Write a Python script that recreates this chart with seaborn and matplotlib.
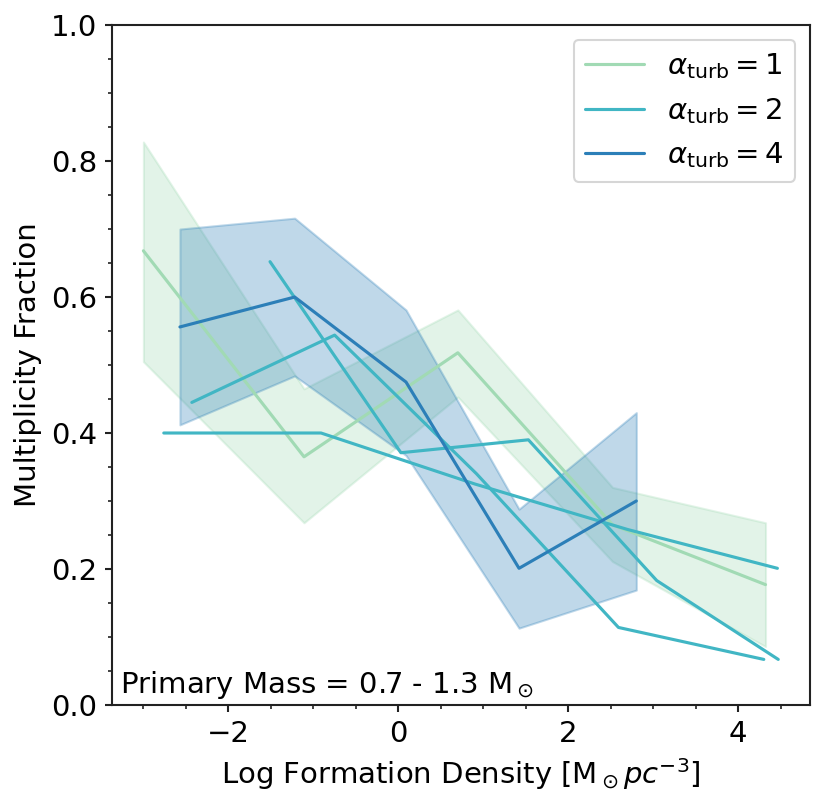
import matplotlib
matplotlib.use("Agg")
import matplotlib.pyplot as plt
import seaborn as sns
from matplotlib.ticker import MultipleLocator

# Estilo: seaborn "ticks" com ajustes para lembrar o padrão do matplotlib
sns.set_theme(style="ticks")
plt.rcParams['font.family'] = ['DejaVu Sans']
plt.rcParams['mathtext.fontset'] = 'dejavusans'
plt.rcParams['text.color'] = 'black'
plt.rcParams['axes.labelcolor'] = 'black'
plt.rcParams['xtick.color'] = 'black'
plt.rcParams['ytick.color'] = 'black'

# Dados (densidade de formação em log, fração de multiplicidade)
dens_a1 = [-3.00, -1.11, 0.70, 2.52, 4.32]
frac_a1 = [0.668, 0.365, 0.518, 0.265, 0.177]
lo_a1 = [0.505, 0.268, 0.453, 0.211, 0.086]
hi_a1 = [0.828, 0.465, 0.581, 0.320, 0.268]

dens_a2_r1 = [-2.76, -0.91, 0.90, 2.70, 4.46]
frac_a2_r1 = [0.400, 0.400, 0.325, 0.258, 0.201]
dens_a2_r2 = [-2.43, -0.75, 0.92, 2.59, 4.30]
frac_a2_r2 = [0.445, 0.544, 0.340, 0.114, 0.067]
dens_a2_r3 = [-1.51, 0.03, 1.53, 3.04, 4.47]
frac_a2_r3 = [0.652, 0.371, 0.390, 0.183, 0.067]

dens_a4 = [-2.57, -1.22, 0.09, 1.42, 2.80]
frac_a4 = [0.556, 0.600, 0.475, 0.201, 0.300]
lo_a4 = [0.412, 0.484, 0.367, 0.113, 0.169]
hi_a4 = [0.700, 0.716, 0.581, 0.288, 0.430]

cores = {1: '#a1dab4', 2: '#41b6c4', 4: '#2c7fb8'}

fig, ax = plt.subplots(figsize=(824 / 150, 809 / 150), dpi=150)
fig.subplots_adjust(left=0.1355, right=0.983, top=0.969, bottom=0.1286)

# Faixas de incerteza
ax.fill_between(dens_a1, lo_a1, hi_a1, color=cores[1], alpha=0.3)
ax.fill_between(dens_a4, lo_a4, hi_a4, color=cores[4], alpha=0.3)

# Curvas
sns.lineplot(x=dens_a1, y=frac_a1, color=cores[1], lw=1.5, ax=ax,
             label=r'$\alpha_{\rm turb} = 1$')
sns.lineplot(x=dens_a2_r1, y=frac_a2_r1, color=cores[2], lw=1.5, ax=ax,
             label=r'$\alpha_{\rm turb} = 2$')
sns.lineplot(x=dens_a2_r2, y=frac_a2_r2, color=cores[2], lw=1.5, ax=ax,
             label='_nolegend_')
sns.lineplot(x=dens_a2_r3, y=frac_a2_r3, color=cores[2], lw=1.5, ax=ax,
             label='_nolegend_')
sns.lineplot(x=dens_a4, y=frac_a4, color=cores[4], lw=1.5, ax=ax,
             label=r'$\alpha_{\rm turb} = 4$')

ax.set_ylim(0, 1)
ax.xaxis.set_major_locator(MultipleLocator(2))
ax.xaxis.set_minor_locator(MultipleLocator(0.5))
ax.yaxis.set_major_locator(MultipleLocator(0.2))
ax.yaxis.set_minor_locator(MultipleLocator(0.05))
ax.tick_params(which='major', length=3.5, width=1, labelsize=14, color='#222222')
ax.tick_params(which='minor', length=2, width=0.8, color='#222222')
for s in ax.spines.values():
    s.set_color('#222222')
    s.set_linewidth(1)

ax.set_xlabel(r'Log Formation Density [M$_\odot pc^{-3}$]', fontsize=14)
ax.set_ylabel('Multiplicity Fraction', fontsize=14)
ax.text(0.012, 0.006, r'Primary Mass = 0.7 - 1.3 M$_\odot$', transform=ax.transAxes,
        fontsize=14, ha='left', va='bottom')

ax.legend(loc='upper right', fontsize=14, frameon=True, fancybox=True,
          framealpha=0.8, edgecolor='#cccccc')

fig.savefig('out.png', dpi=150)
